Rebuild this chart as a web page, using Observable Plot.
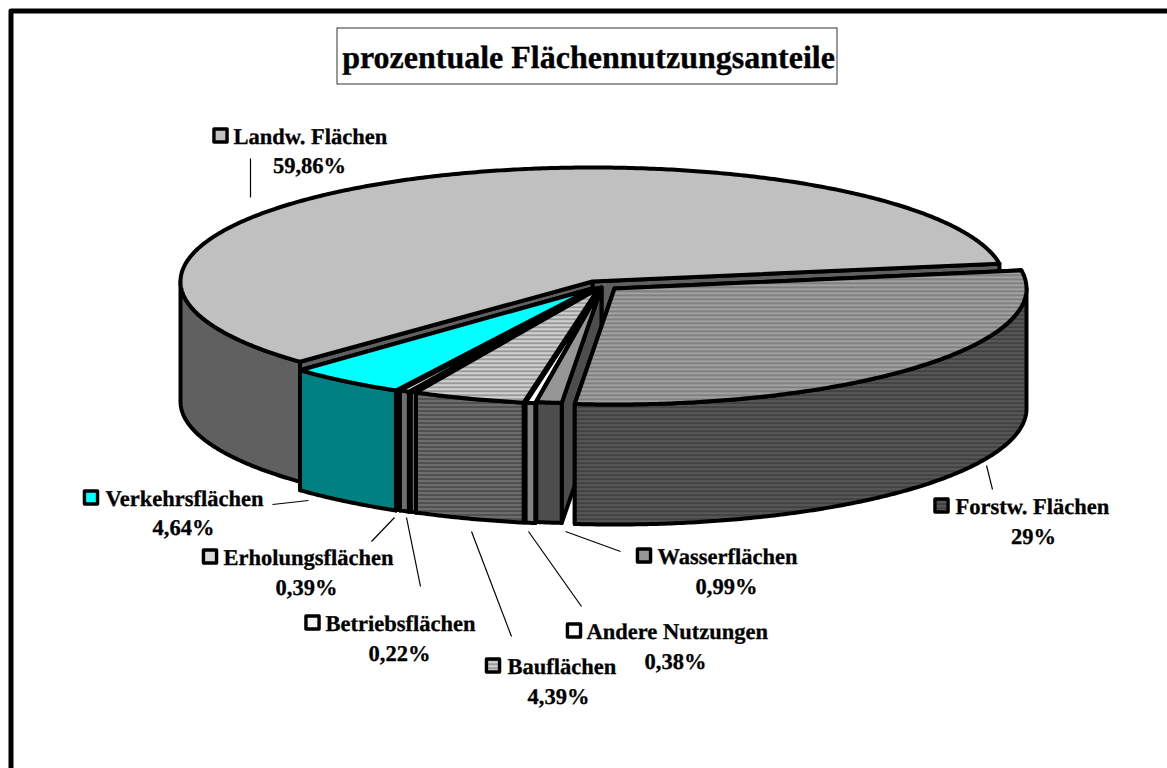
<!DOCTYPE html>
<html>
<head>
<meta charset="utf-8">
<style>html,body{margin:0;padding:0;background:#fff}svg{display:block;text-rendering:geometricPrecision}</style>
<script src="https://cdn.jsdelivr.net/npm/d3@7"></script>
<script src="https://cdn.jsdelivr.net/npm/@observablehq/plot@0.6"></script>
</head>
<body>
<div id="chart"></div>
<script>
// data
const categories = ["Forstw. Flächen","Wasserflächen","Andere Nutzungen","Bauflächen","Betriebsflächen","Erholungsflächen","Verkehrsflächen","Landw. Flächen"];
const shares = [29, 0.99, 0.38, 4.39, 0.22, 0.39, 4.64, 59.86];
const shareLabels = ["29%","0,99%","0,38%","4,39%","0,22%","0,39%","4,64%","59,86%"];
const titleText = "prozentuale Flächennutzungsanteile";

// styles
const topFills = ["url(#forstTop)","#969696","#ffffff","url(#bauTop)","#f4f4f4","#dcdcdc","#00ffff","#c0c0c0"];
const wallFills = ["url(#forstWall)","#4d4d4d","#808080","url(#bauWall)","#7a7a7a","#6e6e6e","#008080","#606060"];
const keyFills = ["url(#forstWall)","#969696","#ffffff","url(#bauTop)","#f4f4f4","#dcdcdc","#00ffff","#c0c0c0"];

// layout of the pie
const rx = 412, depth = 120, startAngle = 9;
const radiusY = [116, 116, 116, 116, 116, 116, 116, 114];
const centerX = [614, 601, 600, 598, 598, 596, 592, 592];
const centerY = [288, 287, 288, 288, 288, 288, 288, 281];

// layout of labels: key centre, text left, first baseline, second line centre, second baseline, leader line
const keyX = [941, 643.5, 573.5, 492.5, 312, 209.5, 90.5, 220];
const nameX = [955, 657, 586, 507, 325, 223, 105, 233];
const nameY = [513, 563, 638, 673, 630, 564, 505, 143];
const valueX = [1033, 726, 675, 558, 399, 306, 183, 309];
const valueY = [543, 593, 668, 703, 660, 594, 534, 172];
const leaderA = [[986,465],[565,531],[528,531],[471,531],[406,517],[394,517],[308,500],[250,158]];
const leaderB = [[992,489],[620,551],[581,606],[511,636],[420,586],[371,541],[272,504],[250,197]];

const total = d3.sum(shares);
const rad = d => d * Math.PI / 180;
let cursor = startAngle;
const slices = shares.map((v, i) => {
  const a0 = cursor, a1 = cursor - v / total * 360;
  cursor = a1;
  return {i, a0, a1, cx: centerX[i], cy: centerY[i], ry: radiusY[i]};
});
const rim = (s, a, dz = 0) => ({x: s.cx + rx * Math.cos(rad(a)), y: s.cy - s.ry * Math.sin(rad(a)) + dz});
const tip = (s, dz = 0) => ({x: s.cx, y: s.cy + dz});
const arc = (s, a0, a1, dz = 0) => {
  const n = Math.max(2, Math.ceil(Math.abs(a1 - a0) * 2));
  return d3.range(n + 1).map(k => rim(s, a0 + (a1 - a0) * k / n, dz));
};
const poly = (pts, fill, sw = 4) => Plot.line([...pts, pts[0], pts[1]], {
  x: "x", y: "y", fill, stroke: "#000", strokeWidth: sw, strokeLinejoin: "round", curve: "linear"
});

const sliceMarks = [7, 6, 5, 4, 3, 2, 1, 0].flatMap(i => {
  const s = slices[i], marks = [];
  for (const a of [s.a1, s.a0]) {
    marks.push(poly([tip(s), rim(s, a), rim(s, a, depth), tip(s, depth)], wallFills[i]));
  }
  const hi = Math.min(s.a0, 0), lo = Math.max(s.a1, -180);
  if (hi > lo) {
    marks.push(poly([...arc(s, hi, lo), ...arc(s, lo, hi, depth)], wallFills[i]));
  }
  marks.push(poly([tip(s), ...arc(s, s.a0, s.a1)], topFills[i]));
  return marks;
});

const serif = "'Liberation Serif','Times New Roman',serif";
const textStyle = {lineAnchor: "bottom", fontFamily: serif, fontWeight: "bold", fontSize: 22.5, fill: "#000", stroke: "#000", strokeWidth: 0.3};
const labelMarks = categories.flatMap((name, i) => [
  Plot.link([0], {x1: () => leaderA[i][0], y1: () => leaderA[i][1], x2: () => leaderB[i][0], y2: () => leaderB[i][1], stroke: "#000", strokeWidth: 1.2}),
  Plot.dot([0], {x: () => keyX[i], y: () => nameY[i] - 8, symbol: "square", r: 7.4, fill: keyFills[i], stroke: "#000", strokeWidth: 3.4, strokeLinejoin: "round"}),
  Plot.text([name], {x: () => nameX[i], y: () => nameY[i], text: d => d, textAnchor: "start", ...textStyle}),
  Plot.text([shareLabels[i]], {x: () => valueX[i], y: () => valueY[i], text: d => d, textAnchor: "middle", ...textStyle})
]);

const stripes = (id, colors) => {
  const h = colors.length;
  return `<pattern id="${id}" width="8" height="${h}" patternUnits="userSpaceOnUse">` +
    colors.map((c, k) => `<rect x="0" y="${k}" width="8" height="1" fill="${c}"/>`).join("") + `</pattern>`;
};
const defsMark = () => {
  const g = document.createElementNS("http://www.w3.org/2000/svg", "defs");
  g.innerHTML =
    stripes("forstTop", ["#a8a8a8","#9c9c9c","#7a7a7a","#868686"]) +
    stripes("forstWall", ["#5e5e5e","#505050","#3c3c3c","#484848"]) +
    stripes("bauTop", ["#dedede","#c4c4c4","#8c8c8c","#a8a8a8"]) +
    stripes("bauWall", ["#7c7c7c","#606060","#444444","#5c5c5c"]);
  return g;
};

const chart = Plot.plot({
  width: 1167, height: 768,
  margin: 0,
  x: {domain: [0, 1167], range: [0, 1167], axis: null},
  y: {domain: [0, 768], range: [0, 768], axis: null},
  style: {background: "#fff"},
  marks: [
    defsMark,
    Plot.line([{x: 10.5, y: 768}, {x: 10.5, y: 10.5}, {x: 1167, y: 10.5}], {x: "x", y: "y", stroke: "#000", strokeWidth: 5, strokeLinejoin: "round"}),
    Plot.rect([0], {x1: () => 337, x2: () => 837, y1: () => 28, y2: () => 84, fill: "#fff", stroke: "#333", strokeWidth: 1}),
    Plot.text([titleText], {x: () => 588, y: () => 67, text: d => d, textAnchor: "middle", lineAnchor: "bottom", fontFamily: serif, fontWeight: "bold", fontSize: 32, fill: "#000", stroke: "#000", strokeWidth: 0.35}),
    ...sliceMarks,
    ...labelMarks
  ]
});
document.getElementById("chart").append(chart);
</script>
</body>
</html>
